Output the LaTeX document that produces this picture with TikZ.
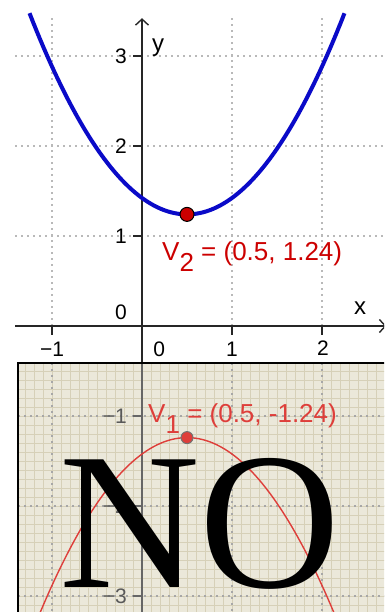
\documentclass[tikz,border=0pt]{standalone}
\usepackage{fontspec}
\setmainfont{Liberation Serif}
\setsansfont{Liberation Sans}
\usetikzlibrary{arrows.meta}
\definecolor{cpara}{RGB}{ 10, 10,200}
\definecolor{cvert}{RGB}{204,  0,  0}
\definecolor{crefl}{RGB}{222, 62, 58}
\definecolor{cpanel}{RGB}{235,232,218}
\definecolor{cfine}{RGB}{214,208,184}
\definecolor{cgrid}{RGB}{185,185,185}
\newcommand{\vertexlabel}[2]{V\raisebox{-0.46em}{#1} = #2}
\tikzset{
  gridline/.style={cgrid,line width=1.6pt,dash pattern=on 1.6pt off 4.4pt},
  axisline/.style={black!85,line width=1.6pt},
  ticklabel/.style={font=\sffamily\fontsize{21}{21}\selectfont,inner sep=0pt},
  axislabel/.style={font=\sffamily\fontsize{24}{24}\selectfont,inner sep=0pt},
  vertexdot/.style={circle,inner sep=0pt,line width=1pt},
  axistip/.style={-{Straight Barb[length=6pt,width=13pt,line width=1.4pt]}}
}

\begin{document}
\begin{tikzpicture}[x=90pt,y=90pt]

  % Explicit bounding box, same proportions as the reference
  \useasboundingbox (-1.5778,-3.1778) rectangle (2.6889,3.6222);
  \clip (-1.5778,-3.1778) rectangle (2.6889,3.6222);

  % ---------------- Upper graph ----------------
  \foreach \gy in {1,2,3}
    \draw[gridline] (-1.411,\gy) -- (2.72,\gy);
  \foreach \gx in {-1,1,2}
    \draw[gridline] (\gx,0) -- (\gx,3.456);

  \draw[axisline,axistip] (-1.411,0) -- (2.715,0);
  \draw[axisline,axistip] (0,-0.42) -- (0,3.42);

  % ticks and their labels
  \foreach \gy in {1,2,3} {
    \draw[axisline] (-0.1,\gy) -- (0,\gy);
    \node[ticklabel,anchor=east] (ty\gy) at (-0.167,\gy) {\gy};
  }
  \foreach \gx in {-1,1,2}
    \draw[axisline] (\gx,0) -- (\gx,-0.1);
  \node[ticklabel] (tx0)  at (0.19,-0.26) {0};
  \node[ticklabel] (txm1) at (-1.0,-0.26) {−1};
  \node[ticklabel] (tx1)  at (1.0,-0.26) {1};
  \node[ticklabel] (tx2)  at (2.01,-0.25) {2};
  \node[ticklabel,anchor=east] (ty0) at (-0.167,0.15) {0};

  \node[axislabel,anchor=north west] (xlab) at (2.356,0.267) {x};
  \node[axislabel,anchor=north west] (ylab) at (0.111,3.189) {y};

  % parabola and its vertex
  \draw[cpara,line width=4pt,domain=-1.25:2.25,samples=90]
    plot (\x,{0.73*(\x-0.5)^2+1.24});
  \node[vertexdot,fill=cvert,draw=black,minimum size=14pt] (v2) at (0.5,1.24) {};
  \node[font=\sffamily\fontsize{26}{26}\selectfont,text=cvert,anchor=base west,inner sep=0pt]
    (v2lab) at (0.222,0.733) {\vertexlabel{2}{(0.5, 1.24)}};

  % ---------------- Lower panel (reflection) ----------------
  \fill[cpanel] (-1.378,-3.25) rectangle (2.75,-0.411);
  \draw[cfine,line width=0.7pt,step=0.1] (-1.378,-3.25) grid (2.75,-0.411);
  \begin{scope}
    \clip (-1.378,-3.25) rectangle (2.75,-0.411);
    \foreach \gy in {-1,-2,-3}
      \draw[gridline,cgrid!90!black] (-1.378,\gy) -- (2.75,\gy);
    \foreach \gx in {-1,1,2}
      \draw[gridline,cgrid!90!black] (\gx,-0.411) -- (\gx,-3.25);
    \draw[black!60,line width=1.4pt] (0,-0.411) -- (0,-3.25);
    \foreach \gy in {-1,-2,-3} {
      \draw[black!60,line width=1.4pt] (-0.1,\gy) -- (0,\gy);
      \node[ticklabel,text=black!65,anchor=east] (tym\gy) at (-0.167,\gy) {−\the\numexpr-\gy\relax};
    }
    \draw[crefl,line width=1.4pt,domain=-1.25:2.25,samples=90]
      plot (\x,{-0.73*(\x-0.5)^2-1.24});
    \node[vertexdot,fill=crefl,draw=black!55,minimum size=12pt] (v1) at (0.5,-1.24) {};
    \node[font=\sffamily\fontsize{26}{26}\selectfont,text=crefl,anchor=base west,inner sep=0pt]
      (v1lab) at (0.067,-1.067) {\vertexlabel{1}{(0.5, -1.24)}};
  \end{scope}
  \draw[black,line width=2pt] (-1.378,-3.25) |- (2.75,-0.411);

  % ---------------- Stamp ----------------
  \node[font=\fontsize{195}{195}\selectfont,anchor=base,inner sep=0pt] (stamp) at (0.644,-2.911) {NO};

\end{tikzpicture}
\end{document}
